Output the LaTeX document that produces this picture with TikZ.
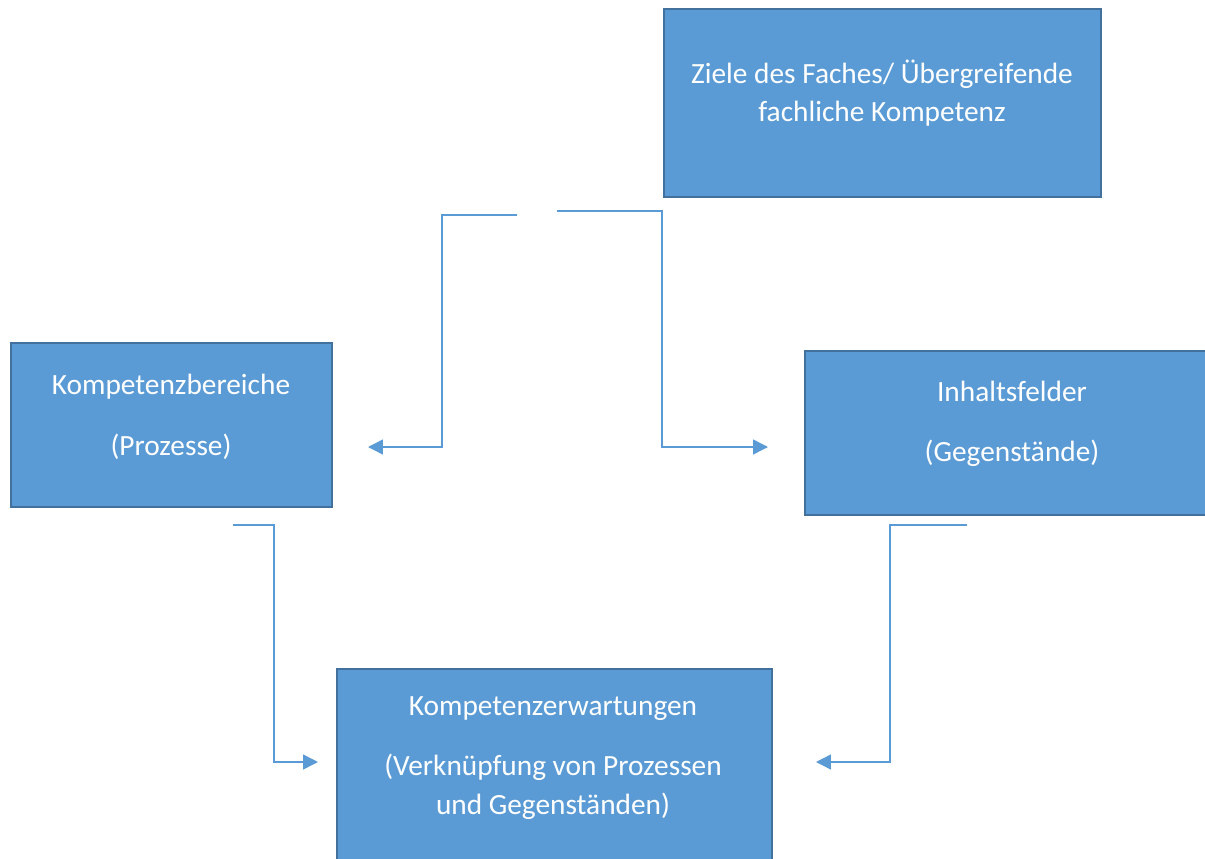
\documentclass[tikz,border=0pt]{standalone}
\usepackage{fontspec}
\setmainfont{Carlito}
\usepackage{xcolor}
\usetikzlibrary{arrows.meta,calc,positioning}
\definecolor{boxblue}{HTML}{5B9BD5}
\definecolor{boxline}{HTML}{41719C}

\begin{document}
\begin{tikzpicture}[x=0.02cm,y=-0.02cm,
  box/.style={shape=rectangle, fill=boxblue, draw=boxline, line width=1.2pt},
  txt/.style={text=white, align=center, font=\fontsize{16.7}{22}\selectfont},
  link/.style={draw=boxblue, line width=0.8pt, -{Triangle[length=8.5pt,width=8.5pt]}}]
\useasboundingbox (0,0) rectangle (1205,859);
% Kästen
\node[box, minimum width=8.74cm, minimum height=3.76cm] (ziele) at (882.5,103) {};
\node[box, minimum width=6.42cm, minimum height=3.28cm] (bereiche) at (171.5,425) {};
\node[box, minimum width=8.04cm, minimum height=3.28cm] (felder) at (1006,433) {};
\node[box, minimum width=8.7cm, minimum height=3.86cm] (erwart) at (554.5,765.5) {};

% Texte
\node[txt] (zieletxt) at (882,93) {Ziele des Faches/ Übergreifende\\fachliche Kompetenz};
\node[txt] (bereichetxt) at (171,417) {Kompetenzbereiche\\[12.5pt](Prozesse)};
\node[txt] (feldertxt) at (1012,424) {Inhaltsfelder\\[12.5pt](Gegenstände)};
\node[txt] (erwarttxt) at (553,758) {Kompetenzerwartungen\\[12.5pt](Verknüpfung von Prozessen\\und Gegenständen)};

% Pfeile
\coordinate (a1) at (517,215);
\coordinate (a2) at (368,447);
\coordinate (b1) at (557,211);
\coordinate (b2) at (768,447);
\coordinate (c1) at (233,525);
\coordinate (c2) at (318,762);
\coordinate (d1) at (967,525);
\coordinate (d2) at (816,762);
\draw[link] (a1) -- ++(-75,0) |- (a2);
\draw[link] (b1) -- ++(105,0) |- (b2);
\draw[link] (c1) -- ++(41,0) |- (c2);
\draw[link] (d1) -- ++(-77,0) |- (d2);
\end{tikzpicture}
\end{document}
